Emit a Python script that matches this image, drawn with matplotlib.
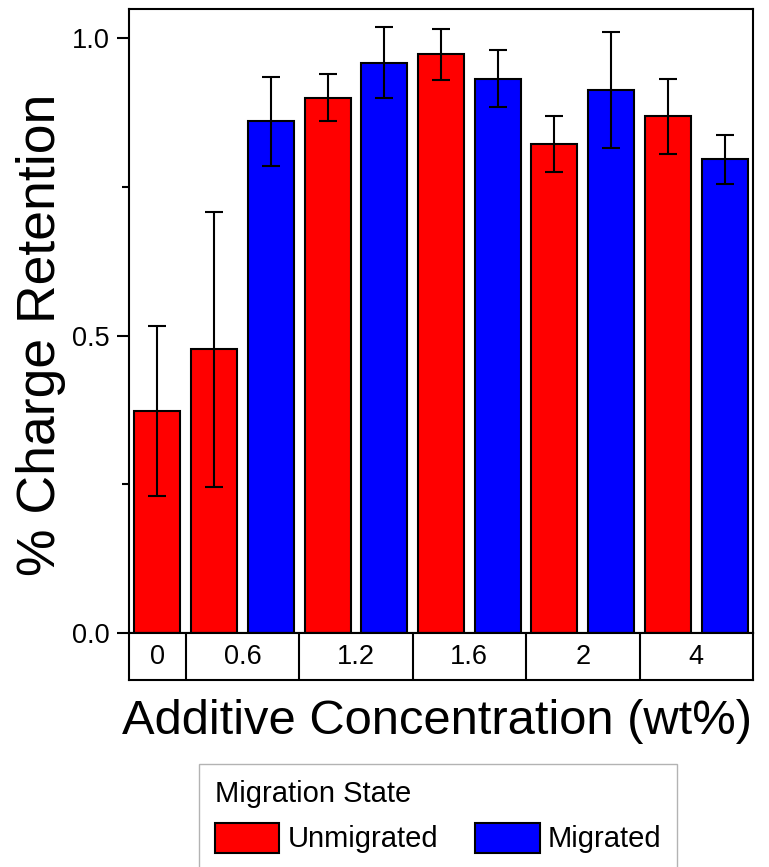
import matplotlib
matplotlib.use("Agg")
import matplotlib.pyplot as plt
from matplotlib.patches import Patch
from matplotlib.ticker import MultipleLocator

plt.rcParams['font.family'] = ['Liberation Sans', 'DejaVu Sans']

# data
groups = ["0", "0.6", "1.2", "1.6", "2", "4"]
unmigrated = [0.373, 0.477, 0.900, 0.973, 0.822, 0.869]
unmigrated_err = [0.143, 0.231, 0.039, 0.043, 0.047, 0.063]
migrated = [None, 0.860, 0.959, 0.932, 0.913, 0.796]
migrated_err = [None, 0.075, 0.060, 0.048, 0.097, 0.041]

red = "#ff0000"
blue = "#0000ff"

fig = plt.figure(figsize=(7.69, 8.67), dpi=100)
W, H = 769, 867
ax = fig.add_axes([129 / W, 1 - 633 / H, 624 / W, 624 / H])
tab = fig.add_axes([129 / W, 1 - 680 / H, 624 / W, 47 / H], sharex=ax)

# lay bars out one slot each, red then blue inside a group
xs, vals, errs, cols = [], [], [], []
centers, bounds = [], []
pos = 0
for i, g in enumerate(groups):
    start = pos
    for v, e, c in ((unmigrated[i], unmigrated_err[i], red),
                    (migrated[i], migrated_err[i], blue)):
        if v is None:
            continue
        xs.append(pos)
        vals.append(v)
        errs.append(e)
        cols.append(c)
        pos += 1
    centers.append((start + pos - 1) / 2)
    bounds.append(pos - 0.5)

ax.bar(xs, vals, width=0.81, color=cols, edgecolor="black", linewidth=1.5,
       yerr=errs, capsize=6.5,
       error_kw=dict(ecolor="black", elinewidth=1.5, capthick=1.5))

ax.set_xlim(-0.5, pos - 0.5)
ax.set_ylim(0, 1.049)
ax.yaxis.set_major_locator(MultipleLocator(0.5))
ax.yaxis.set_minor_locator(MultipleLocator(0.25))
ax.yaxis.set_major_formatter(matplotlib.ticker.FormatStrFormatter("%.1f"))
ax.tick_params(axis="y", which="major", length=9, width=1.5, labelsize=19.5, pad=5)
ax.tick_params(axis="y", which="minor", length=5, width=1.5)
ax.tick_params(axis="x", bottom=False, labelbottom=False)
for s in ax.spines.values():
    s.set_linewidth(1.5)

# category table under the axis
tab.set_ylim(0, 1)
tab.tick_params(left=False, bottom=False, labelleft=False, labelbottom=False)
for s in tab.spines.values():
    s.set_linewidth(1.5)
for b in bounds[:-1]:
    tab.axvline(b, color="black", linewidth=1.5)
for c, g in zip(centers, groups):
    tab.text(c, 0.48, g, ha="center", va="center", fontsize=19.5)

fig.text(437 / W, 1 - 721 / H, "Additive Concentration (wt%)",
         ha="center", va="center", fontsize=35.2)
fig.text(41 / W, 1 - 335 / H, "% Charge Retention", rotation=90,
         ha="center", va="center", fontsize=38.5)

handles = [Patch(facecolor=red, edgecolor="black", linewidth=1.5, label="Unmigrated"),
           Patch(facecolor=blue, edgecolor="black", linewidth=1.5, label="Migrated")]
leg = fig.legend(handles=handles, title="Migration State", ncol=2,
                 loc="upper left", bbox_to_anchor=(199 / W, 1 - 764 / H),
                 borderaxespad=0, fontsize=21, title_fontsize=21,
                 alignment="left", fancybox=False, borderpad=0.55,
                 handlelength=2.2, handleheight=1.2, handletextpad=0.28,
                 columnspacing=1.28, labelspacing=0.5)
leg.get_frame().set_edgecolor("#a0a0a0")
leg.get_frame().set_linewidth(1.0)

fig.savefig("out.png", dpi=100)
